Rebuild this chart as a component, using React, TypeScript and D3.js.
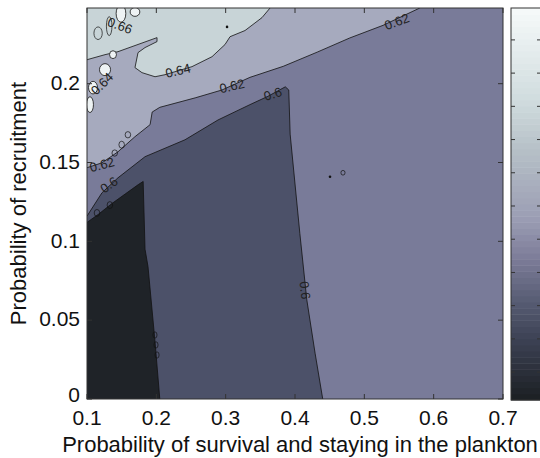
import React from 'react';
import * as d3 from 'd3';

// axis ranges and ticks
const xDomain = [0.1, 0.7];
const yDomain = [0, 0.248];
const xTicks = [0.1, 0.2, 0.3, 0.4, 0.5, 0.6, 0.7];
const xTickLabels = ['0.1', '0.2', '0.3', '0.4', '0.5', '0.6', '0.7'];
const yTicks = [0, 0.05, 0.1, 0.15, 0.2];
const yTickLabels = ['0', '0.05', '0.1', '0.15', '0.2'];

// contour lines, [survival, recruitment]
const line058: [number, number][] = [
  [0.1, 0.112], [0.116, 0.117], [0.136, 0.124], [0.155, 0.13], [0.174, 0.136],
  [0.181, 0.138], [0.1837, 0.095], [0.188, 0.084], [0.198, 0.037], [0.205, 0],
];
const line060: [number, number][] = [
  [0.1, 0.116], [0.1216, 0.1308], [0.1447, 0.1403], [0.1837, 0.1537], [0.2413, 0.1644],
  [0.289, 0.177], [0.335, 0.1867], [0.361, 0.192], [0.386, 0.198], [0.391, 0.196],
  [0.393, 0.168], [0.407, 0.105], [0.417, 0.063], [0.429, 0.029], [0.44, 0],
];
const line062: [number, number][] = [
  [0.1, 0.1467], [0.1216, 0.1498], [0.1447, 0.1568], [0.169, 0.1663], [0.191, 0.174],
  [0.194, 0.182], [0.205, 0.185], [0.256, 0.191], [0.2947, 0.196], [0.335, 0.204],
  [0.383, 0.211], [0.432, 0.22], [0.479, 0.229], [0.527, 0.237], [0.58, 0.248],
];
const line064: [number, number][] = [
  [0.1, 0.2152], [0.126, 0.2184], [0.1447, 0.2203], [0.1649, 0.2235], [0.201, 0.2292],
  [0.201, 0.2267], [0.1837, 0.2229], [0.1736, 0.2197], [0.1692, 0.2102], [0.1793, 0.207],
  [0.1981, 0.2044], [0.2125, 0.2057], [0.2514, 0.2108], [0.2803, 0.2171], [0.299, 0.2248],
  [0.3063, 0.2298], [0.3279, 0.2337], [0.3524, 0.2419], [0.364, 0.248],
];

// small closed contours: [x, y, half width, half height] in data units
const peaks066: [number, number, number, number][] = [
  [0.149, 0.2445, 0.007, 0.0055], [0.1692, 0.2455, 0.007, 0.0028], [0.126, 0.2089, 0.008, 0.0038],
  [0.1087, 0.1975, 0.0065, 0.004], [0.1043, 0.1867, 0.005, 0.005], [0.1375, 0.2184, 0.005, 0.0025],
];
const loops: [number, number, number, number][] = [
  [0.198, 0.0406, 0.003, 0.002], [0.1995, 0.0343, 0.003, 0.002], [0.201, 0.0279, 0.003, 0.002],
  [0.1144, 0.118, 0.004, 0.0022], [0.133, 0.123, 0.004, 0.0022], [0.159, 0.1676, 0.004, 0.002],
  [0.15, 0.1613, 0.004, 0.0022], [0.14, 0.156, 0.004, 0.002], [0.4692, 0.1435, 0.003, 0.0015],
  [0.116, 0.232, 0.006, 0.004], [0.132, 0.2365, 0.004, 0.006],
];
const dots: [number, number][] = [[0.4505, 0.141], [0.302, 0.236]];

// contour labels: text, x, y, angle
const contourLabels: [string, number, number, number][] = [
  ['0.64', 0.2313, 0.2083, -14], ['0.62', 0.3091, 0.1985, -13], ['0.6', 0.368, 0.1935, -18],
  ['0.62', 0.547, 0.2394, -20], ['0.62', 0.1216, 0.1486, -15], ['0.6', 0.1317, 0.1359, -35],
  ['0.64', 0.1216, 0.2, -45], ['0.66', 0.1476, 0.2368, 20], ['0.6', 0.4145, 0.069, 84],
];

// colour bar
const cbDomain = [0.5416, 0.6596];
const cbTicks = [0.55, 0.56, 0.57, 0.58, 0.59, 0.6, 0.61, 0.62, 0.63, 0.64, 0.65];
const cbStops = ['#1b1f23', '#3c4153', '#585d74', '#7b7b97', '#9a9cb3', '#b6c0c7', '#d0dcde', '#f6fafa'];
const cbStopPos = [0, 0.153, 0.255, 0.357, 0.459, 0.638, 0.765, 1];
const cbBands = 64;

const levelColors = ['#1f2328', '#4c5169', '#797b99', '#a6aabe', '#c8d4d7', '#eef3f4'];

const W = 540;
const H = 458;
const m = { left: 87, right: 503, top: 8, bottom: 399 };

const App: React.FC = () => {
  const x = d3.scaleLinear().domain(xDomain).range([m.left, m.right]);
  const y = d3.scaleLinear().domain(yDomain).range([m.bottom, m.top]);
  const line = d3.line<[number, number]>().x(d => x(d[0])).y(d => y(d[1]));
  const area = (pts: [number, number][]) => line(pts) + 'Z';

  const regionA = area([[0.1, 0], ...line058]);
  const regionB = area([[0.1, 0], ...line060]);
  const regionC = area([...line062, [0.1, yDomain[1]]]);
  const regionD = area([...line064, [0.1, yDomain[1]]]);

  const cb = d3.scaleLinear().domain(cbDomain).range([400, 8]);
  const cbColor = d3.scaleLinear<string>().domain(cbStopPos).range(cbStops).interpolate(d3.interpolateRgb);
  const bandH = (400 - 8) / cbBands;
  const bands = d3.range(cbBands).map(i => ({
    y: 400 - (i + 1) * bandH,
    c: cbColor((i + 0.5) / cbBands),
  }));

  const font = '"Liberation Sans", Arial, Helvetica, sans-serif';
  const ink = '#222';

  return (
    <svg width={W} height={H} style={{ position: 'absolute', left: 0, top: 0, background: '#fff' }} fontFamily={font}>
      <defs>
        <clipPath id="plot">
          <rect x={m.left} y={m.top} width={m.right - m.left} height={m.bottom - m.top} />
        </clipPath>
      </defs>

      <g clipPath="url(#plot)">
        <rect x={m.left} y={m.top} width={m.right - m.left} height={m.bottom - m.top} fill={levelColors[2]} />
        <path d={regionB} fill={levelColors[1]} />
        <path d={regionA} fill={levelColors[0]} />
        <path d={regionC} fill={levelColors[3]} />
        <path d={regionD} fill={levelColors[4]} />

        {[line058, line060, line062, line064].map((l, i) => (
          <path key={i} d={line(l) || ''} fill="none" stroke="#111" strokeWidth={0.8} />
        ))}

        {peaks066.map((p, i) => (
          <ellipse key={'p' + i} cx={x(p[0])} cy={y(p[1])} rx={x(p[0] + p[2]) - x(p[0])} ry={y(p[1]) - y(p[1] + p[3])}
            fill={levelColors[5]} stroke="#111" strokeWidth={0.8} />
        ))}
        {loops.map((p, i) => (
          <ellipse key={'l' + i} cx={x(p[0])} cy={y(p[1])} rx={x(p[0] + p[2]) - x(p[0])} ry={y(p[1]) - y(p[1] + p[3])}
            fill="none" stroke="#111" strokeWidth={0.7} />
        ))}
        {dots.map((p, i) => (
          <circle key={'d' + i} cx={x(p[0])} cy={y(p[1])} r={1.3} fill="#111" />
        ))}

        {contourLabels.map(([t, lx, ly, a], i) => (
          <text key={'t' + i} x={x(lx)} y={y(ly)} fontSize={13} fill={ink} textAnchor="middle" dy="0.35em"
            transform={`rotate(${a}, ${x(lx)}, ${y(ly)})`}>{t}</text>
        ))}
      </g>

      {/* frame and inward ticks */}
      <rect x={m.left} y={m.top} width={m.right - m.left} height={m.bottom - m.top} fill="none" stroke="#333" strokeWidth={1} />
      {xTicks.map(t => (
        <g key={'xt' + t} stroke="#333" strokeWidth={1}>
          <line x1={x(t)} x2={x(t)} y1={m.bottom} y2={m.bottom - 5} />
          <line x1={x(t)} x2={x(t)} y1={m.top} y2={m.top + 5} />
        </g>
      ))}
      {yTicks.map(t => (
        <g key={'yt' + t} stroke="#333" strokeWidth={1}>
          <line x1={m.left} x2={m.left + 5} y1={y(t)} y2={y(t)} />
          <line x1={m.right} x2={m.right - 5} y1={y(t)} y2={y(t)} />
        </g>
      ))}
      {xTicks.map((t, i) => (
        <text key={'xl' + t} x={x(t)} y={425} fontSize={21} textAnchor="middle" fill="#111">{xTickLabels[i]}</text>
      ))}
      {yTicks.map((t, i) => (
        <text key={'yl' + t} x={80} y={y(t)} dy={t === 0 ? '0.12em' : '0.3em'} fontSize={21} textAnchor="end" fill="#111">{yTickLabels[i]}</text>
      ))}

      <text x={300} y={452} fontSize={22} textAnchor="middle" fill="#111">
        Probability of survival and staying in the plankton
      </text>
      <text transform={`translate(26, ${(m.top + m.bottom) / 2}) rotate(-90)`} fontSize={22} textAnchor="middle" fill="#111">
        Probability of recruitment
      </text>

      {/* colour bar */}
      <g>
        {bands.map((b, i) => (
          <rect key={'cb' + i} x={511} y={b.y} width={31} height={bandH + 0.5} fill={b.c} />
        ))}
        <rect x={511} y={8} width={31} height={392} fill="none" stroke="#333" strokeWidth={1} />
        {cbTicks.map(t => (
          <g key={'cbt' + t} stroke="#333" strokeWidth={1}>
            <line x1={511} x2={515} y1={cb(t)} y2={cb(t)} />
            <line x1={542} x2={537} y1={cb(t)} y2={cb(t)} />
          </g>
        ))}
      </g>
    </svg>
  );
};

export default App;
